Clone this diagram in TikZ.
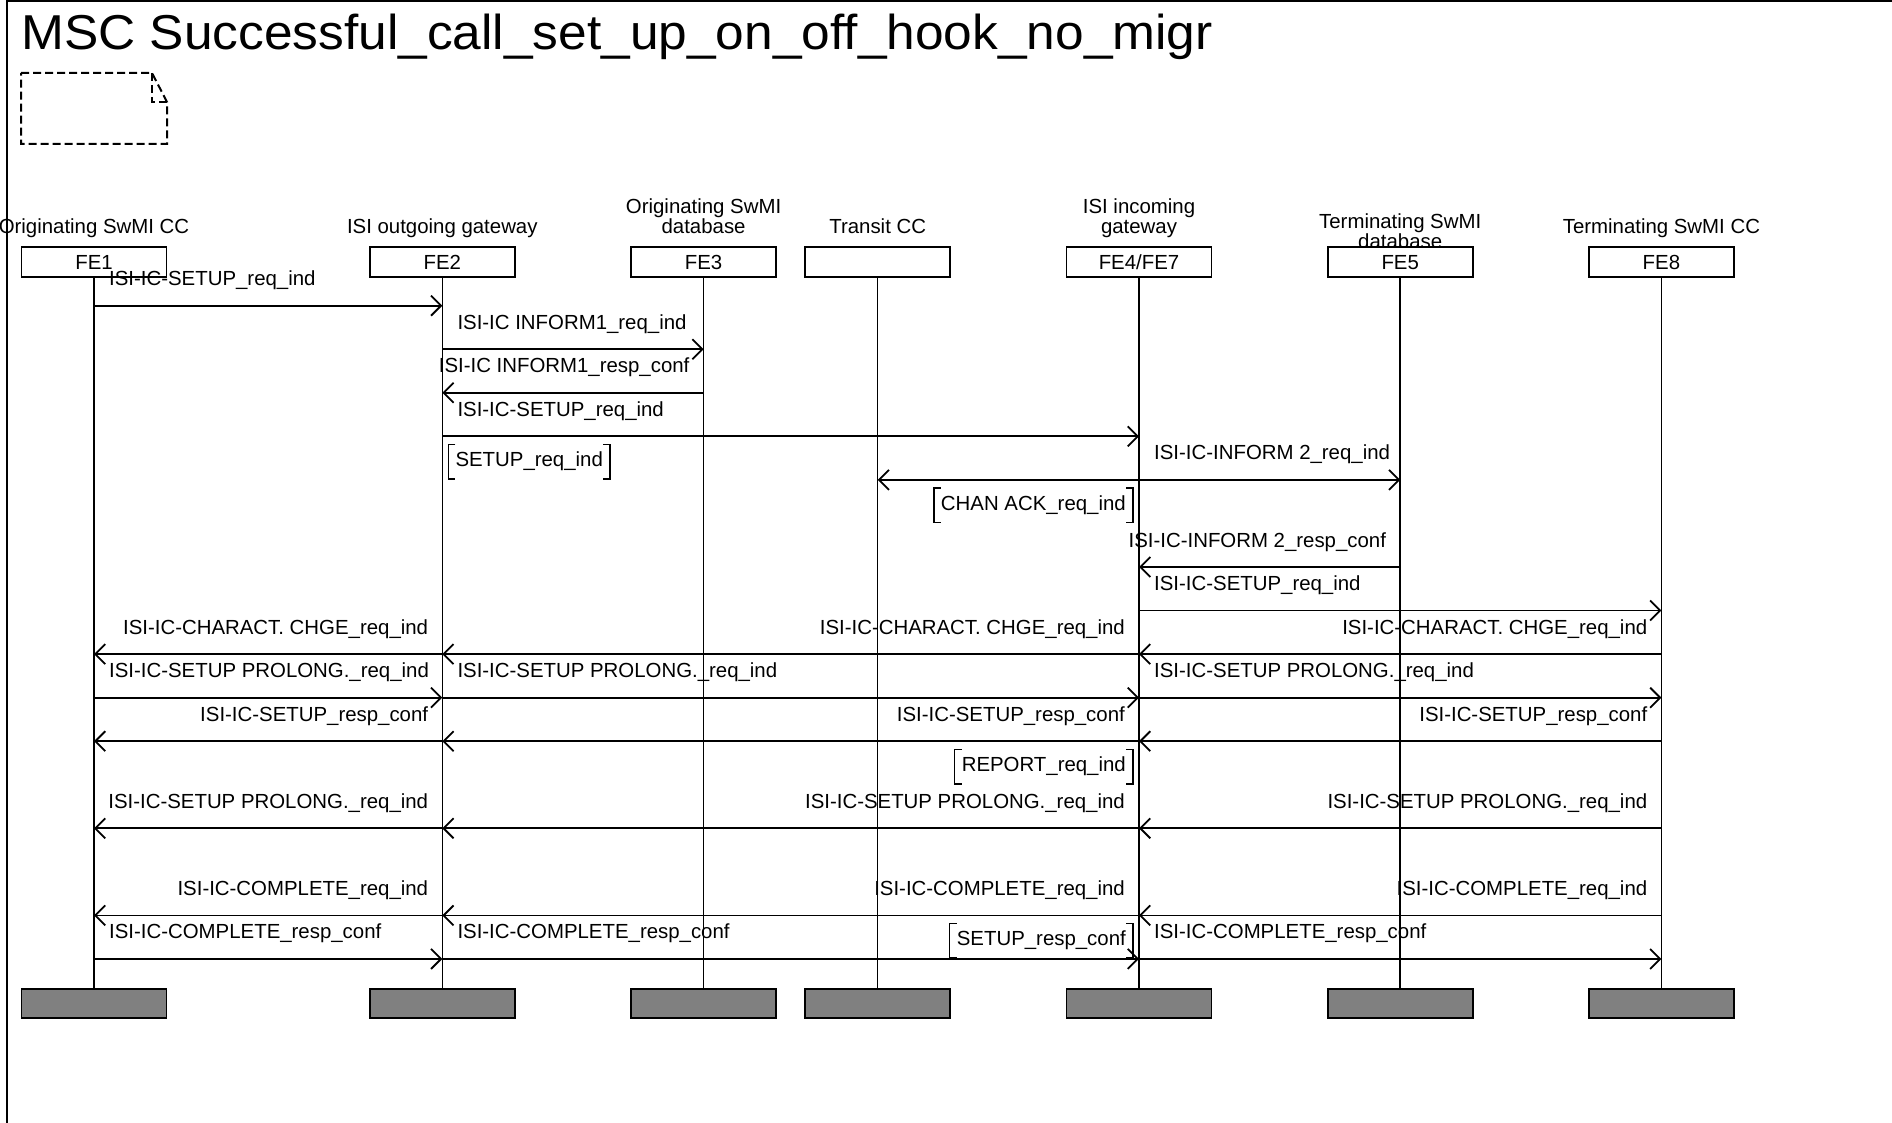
\documentclass[tikz,border=0pt]{standalone}
\usepackage{fontspec}
\setmainfont{Liberation Sans}
\newfontfamily\ttlfont[FakeStretch=1.05]{Liberation Sans}
\usetikzlibrary{arrows.meta,calc}
\newcommand\lblfont{\fontsize{20.4pt}{20pt}\selectfont}
\definecolor{endgray}{RGB}{128,128,128}
\begin{document}
\begin{tikzpicture}[x=1pt,y=-1pt,
  lbl/.style={inner sep=0pt, font=\lblfont},
  head/.style={draw, fill=white, line width=1.8pt, minimum width=145pt, minimum height=29.4pt, inner sep=0pt, text height=14.6pt, text depth=0pt, font=\lblfont},
  endbox/.style={draw, fill=endgray, line width=1.8pt, minimum width=145pt, minimum height=29pt, inner sep=0pt},
  hdr/.style={inner sep=0pt, align=center, text depth=0pt, anchor=south, font=\lblfont},
  life/.style={line width=1.5pt},
  msg/.style={line width=1.8pt, -{Straight Barb[length=10pt,width=20pt]}},
  act/.style={inner xsep=7pt, inner ysep=0pt, text height=22pt, text depth=12pt, font=\lblfont},
  brk/.style={line width=1.5pt},
  docsym/.style={line width=2pt, dash pattern=on 8pt off 4pt},
]
\useasboundingbox (0,0) rectangle (1892,1123);
% frame
\draw[line width=2pt] (7,1123) -- (7,1) -- (1892,1);
% title
\node[anchor=base west, inner sep=0pt, font=\ttlfont\fontsize{49pt}{49pt}\selectfont] (title) at (21,50) {MSC Successful\_call\_set\_up\_on\_off\_hook\_no\_migr};
% document symbol
\draw[docsym] (21,73) -- (152,73) -- (167,102) -- (167,144) -- (21,144) -- cycle;
\draw[docsym] (152,73) -- (152,102) -- (167,102);

% instance headers
\node[hdr] (n1) at (94,234) {Originating SwMI CC};
\node[hdr] (n2) at (442.3,234) {ISI outgoing gateway};
\node[hdr] (n3) at (703.6,234) {Originating SwMI\\database};
\node[hdr] (n4) at (877.7,234) {Transit CC};
\node[hdr] (n5) at (1139,234) {ISI incoming\\gateway};
\node[hdr] (n6) at (1400.2,249) {Terminating SwMI\\database};
\node[hdr] (n7) at (1661.4,234) {Terminating SwMI CC};

% instance boxes
\node[head] (h1) at (94,262) {FE1};
\node[head] (h2) at (442.3,262) {FE2};
\node[head] (h3) at (703.6,262) {FE3};
\node[head] (h4) at (877.7,262) {};
\node[head] (h5) at (1139,262) {FE4/FE7};
\node[head] (h6) at (1400.2,262) {FE5};
\node[head] (h7) at (1661.4,262) {FE8};

% end boxes
\foreach \i/\x in {1/94,2/442.3,3/703.6,4/877.7,5/1139,6/1400.2,7/1661.4}
  \node[endbox] (e\i) at (\x,1003.5) {};
% lifelines
\foreach \i in {1,...,7}
  \draw[life] (h\i) -- (e\i);

% rows
\coordinate (r0) at (0,305.7);
\coordinate (r1) at (0,349.25);
\coordinate (r2) at (0,392.8);
\coordinate (r3) at (0,436.35);
\coordinate (r4) at (0,479.9);
\coordinate (r5) at (0,523.45);
\coordinate (r6) at (0,567.0);
\coordinate (r7) at (0,610.55);
\coordinate (r8) at (0,654.1);
\coordinate (r9) at (0,697.65);
\coordinate (r10) at (0,741.2);
\coordinate (r11) at (0,784.75);
\coordinate (r12) at (0,828.3);
\coordinate (r14) at (0,915.4);
\coordinate (r15) at (0,958.95);

% row 0
\draw[msg] (h1 |- r0) -- (h2 |- r0);
\node[lbl, anchor=base west] (m0) at ($(h1 |- r0)+(15,-20)$) {ISI-IC-SETUP\_req\_ind};
% row 1
\draw[msg] (h2 |- r1) -- (h3 |- r1);
\node[lbl, anchor=base west] (m1) at ($(h2 |- r1)+(15,-20)$) {ISI-IC INFORM1\_req\_ind};
% row 2
\draw[msg] (h3 |- r2) -- (h2 |- r2);
\node[lbl, anchor=base east] (m2) at ($(h3 |- r2)+(-14,-20)$) {ISI-IC INFORM1\_resp\_conf};
% row 3
\draw[msg] (h2 |- r3) -- (h5 |- r3);
\node[lbl, anchor=base west] (m3) at ($(h2 |- r3)+(15,-20)$) {ISI-IC-SETUP\_req\_ind};
% action SETUP_req_ind
\node[act, anchor=south west] (a1) at ($(h2 |- r4)+(6,-1)$) {SETUP\_req\_ind};
% row 4
\draw[msg] (h5 |- r4) -- (h4 |- r4);
\draw[msg] (h5 |- r4) -- (h6 |- r4);
\node[lbl, anchor=base west] (m4) at ($(h5 |- r4)+(15,-20)$) {ISI-IC-INFORM 2\_req\_ind};
% action CHAN ACK
\node[act, anchor=south east] (a2) at ($(h5 |- r5)+(-6,-1)$) {CHAN ACK\_req\_ind};
% row 6
\draw[msg] (h6 |- r6) -- (h5 |- r6);
\node[lbl, anchor=base east] (m6) at ($(h6 |- r6)+(-14,-20)$) {ISI-IC-INFORM 2\_resp\_conf};
% row 7
\draw[msg] (h5 |- r7) -- (h7 |- r7);
\node[lbl, anchor=base west] (m7) at ($(h5 |- r7)+(15,-20)$) {ISI-IC-SETUP\_req\_ind};
% row 8
\foreach \s/\t in {7/5,5/2,2/1}{
  \draw[msg] (h\s |- r8) -- (h\t |- r8);
  \node[lbl, anchor=base east] (m8s\s) at ($(h\s |- r8)+(-14,-20)$) {ISI-IC-CHARACT. CHGE\_req\_ind};
}
% row 9
\foreach \s/\t in {1/2,2/5,5/7}{
  \draw[msg] (h\s |- r9) -- (h\t |- r9);
  \node[lbl, anchor=base west] (m9s\s) at ($(h\s |- r9)+(15,-20)$) {ISI-IC-SETUP PROLONG.\_req\_ind};
}
% row 10
\foreach \s/\t in {7/5,5/2,2/1}{
  \draw[msg] (h\s |- r10) -- (h\t |- r10);
  \node[lbl, anchor=base east] (m10s\s) at ($(h\s |- r10)+(-14,-20)$) {ISI-IC-SETUP\_resp\_conf};
}
% action REPORT
\node[act, anchor=south east] (a3) at ($(h5 |- r11)+(-6,-1)$) {REPORT\_req\_ind};
% row 12
\foreach \s/\t in {7/5,5/2,2/1}{
  \draw[msg] (h\s |- r12) -- (h\t |- r12);
  \node[lbl, anchor=base east] (m12s\s) at ($(h\s |- r12)+(-14,-20)$) {ISI-IC-SETUP PROLONG.\_req\_ind};
}
% row 14
\foreach \s/\t in {7/5,5/2,2/1}{
  \draw[msg] (h\s |- r14) -- (h\t |- r14);
  \node[lbl, anchor=base east] (m14s\s) at ($(h\s |- r14)+(-14,-20)$) {ISI-IC-COMPLETE\_req\_ind};
}
% row 15
\foreach \s/\t in {1/2,2/5,5/7}{
  \draw[msg] (h\s |- r15) -- (h\t |- r15);
  \node[lbl, anchor=base west] (m15s\s) at ($(h\s |- r15)+(15,-20)$) {ISI-IC-COMPLETE\_resp\_conf};
}
% action SETUP_resp_conf
\node[act, anchor=south east] (a4) at ($(h5 |- r15)+(-6,-1)$) {SETUP\_resp\_conf};

% brackets of the action boxes
\foreach \a in {a1,a2,a3,a4}{
  \draw[brk] ($(\a.north west)+(7,0)$) -- (\a.north west) -- (\a.south west) -- ++(7,0);
  \draw[brk] ($(\a.north east)+(-7,0)$) -- (\a.north east) -- (\a.south east) -- ++(-7,0);
}
\end{tikzpicture}
\end{document}
